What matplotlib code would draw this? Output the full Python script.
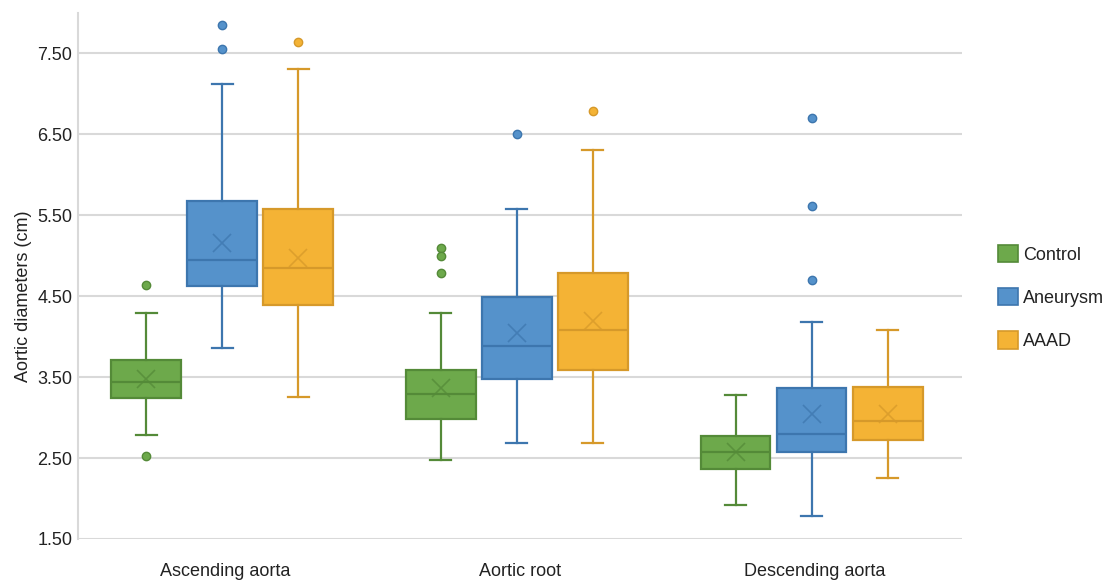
import matplotlib.pyplot as plt
from matplotlib.patches import Patch

plt.rcParams['font.family'] = ['Liberation Sans', 'DejaVu Sans']

# valores (cm)
categorias = ["Ascending aorta", "Aortic root", "Descending aorta"]
grupos = ["Control", "Aneurysm", "AAAD"]

# [categoria][grupo] -> (whislo, q1, med, q3, whishi, media)
control = [(2.79, 3.24, 3.44, 3.71, 4.29, 3.47),
           (2.48, 2.98, 3.29, 3.59, 4.29, 3.37),
           (1.92, 2.36, 2.58, 2.77, 3.28, 2.58)]
aneurysm = [(3.86, 4.62, 4.94, 5.67, 7.12, 5.15),
            (2.69, 3.48, 3.88, 4.49, 5.58, 4.04),
            (1.79, 2.58, 2.80, 3.36, 4.18, 3.04)]
aaad = [(3.25, 4.39, 4.85, 5.58, 7.30, 4.97),
        (2.69, 3.59, 4.08, 4.78, 6.30, 4.19),
        (2.25, 2.72, 2.96, 3.38, 4.08, 3.04)]

outliers_control = [[4.64, 2.52], [5.09, 4.99, 4.78], []]
outliers_aneurysm = [[7.85, 7.55], [6.50], [6.70, 5.61, 4.70]]
outliers_aaad = [[7.64], [6.79], []]

cores = {"Control": ("#6DA94B", "#548A38"),
         "Aneurysm": ("#5592CB", "#3D76AE"),
         "AAAD": ("#F4B335", "#D6992A")}

dados = {"Control": (control, outliers_control),
         "Aneurysm": (aneurysm, outliers_aneurysm),
         "AAAD": (aaad, outliers_aaad)}

fig = plt.figure(figsize=(11.09, 5.81), dpi=100)
ax = fig.add_axes([0.0703, 0.0723, 0.797, 0.906])

largura = 0.237
deslocamento = [-0.268, -0.01, 0.248]

for g, grupo in enumerate(grupos):
    valores, outs = dados[grupo]
    fill, edge = cores[grupo]
    stats = []
    for c in range(len(categorias)):
        lo, q1, med, q3, hi, media = valores[c]
        stats.append(dict(whislo=lo, q1=q1, med=med, q3=q3, whishi=hi,
                          mean=media, fliers=outs[c]))
    pos = [c + deslocamento[g] for c in range(len(categorias))]
    ax.bxp(stats, positions=pos, widths=largura, patch_artist=True,
           showmeans=True, showfliers=True, manage_ticks=False,
           boxprops=dict(facecolor=fill, edgecolor=edge, linewidth=1.6),
           medianprops=dict(color=edge, linewidth=1.6),
           whiskerprops=dict(color=edge, linewidth=1.6),
           capprops=dict(color=edge, linewidth=1.6),
           capwidths=largura * 0.3,
           meanprops=dict(marker='x', markersize=13, markeredgecolor=edge,
                          markeredgewidth=1.2, alpha=0.75),
           flierprops=dict(marker='o', markersize=6, markerfacecolor=fill,
                           markeredgecolor=edge, markeredgewidth=1.0))

ax.set_xlim(-0.5, 2.5)
ax.set_ylim(1.5, 8.0)
ax.set_yticks([1.5, 2.5, 3.5, 4.5, 5.5, 6.5, 7.5])
ax.set_yticklabels([f"{v:.2f}" for v in [1.5, 2.5, 3.5, 4.5, 5.5, 6.5, 7.5]])
ax.set_xticks(range(len(categorias)))
ax.set_xticklabels(categorias)
ax.yaxis.grid(True, color="#D9D9D9", linewidth=1.5)
ax.set_axisbelow(True)
for lado in ["top", "right", "bottom"]:
    ax.spines[lado].set_visible(False)
ax.spines["left"].set_color("#D9D9D9")
ax.spines["left"].set_linewidth(1.5)
ax.tick_params(axis='both', length=0, labelsize=13, colors="#222222")
ax.tick_params(axis='y', pad=4)
ax.tick_params(axis='x', pad=17)
ax.set_ylabel("Aortic diameters (cm)", fontsize=13, color="#222222", labelpad=4)
ax.yaxis.label.set_y(0.4615)

handles = [Patch(facecolor=cores[g][0], edgecolor=cores[g][1], linewidth=1.2, label=g)
           for g in grupos]
fig.legend(handles=handles, loc="center left", bbox_to_anchor=(0.8855, 0.488),
           frameon=False, fontsize=13, handlelength=1.1, handleheight=1.1,
           labelspacing=1.35, handletextpad=0.25, labelcolor="#222222")

plt.savefig("out.png", dpi=100)
plt.close()
